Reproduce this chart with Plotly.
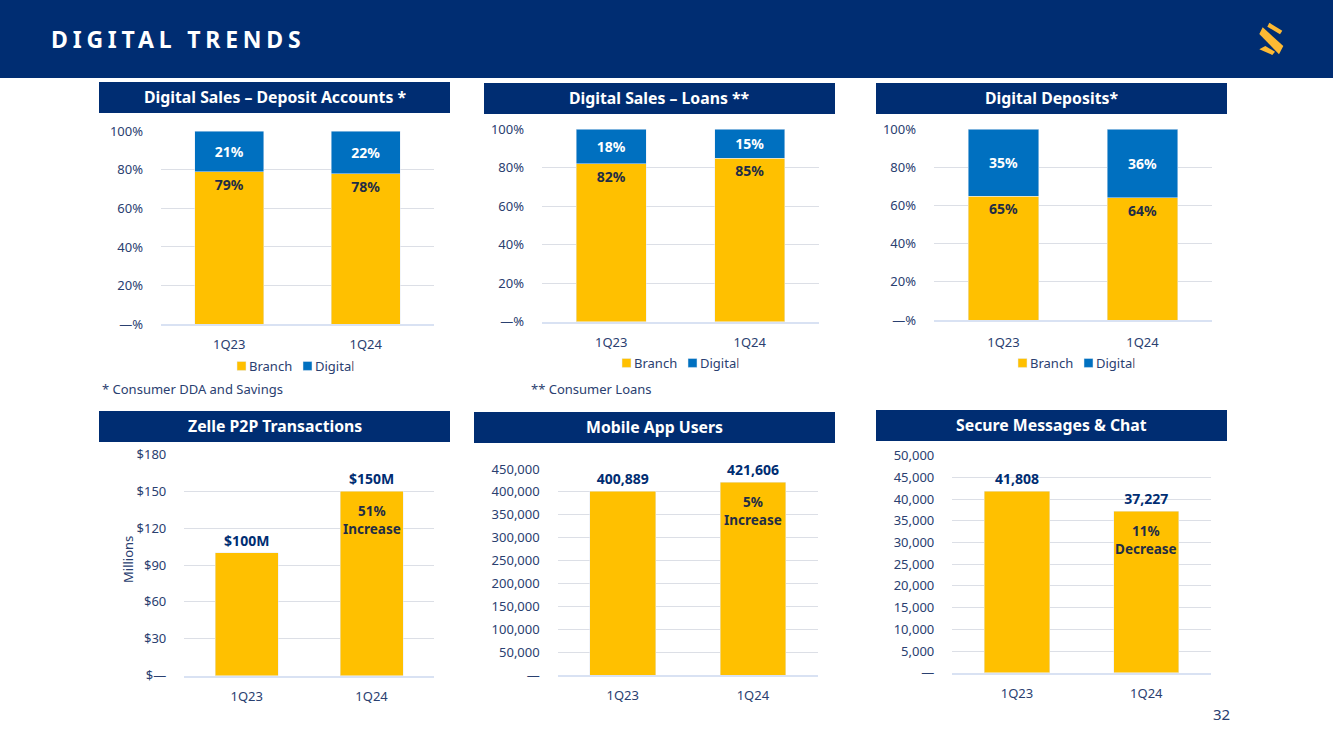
import plotly.graph_objects as go

W, H = 1333, 749
FONT = "Noto Sans"
NAVY = "#002d72"
YELLOW = "#ffc000"
BLUE = "#0070c0"
TICK = "#2a4070"
DARK = "#1f2d45"
GRID = "#dcdfe6"
BASE = "#d9e2f3"

quarters = ["1Q23", "1Q24"]

deposit_branch = [79, 78]
deposit_digital = [21, 22]
loans_branch = [82, 85]
loans_digital = [18, 15]
deposits_branch = [65, 64]
deposits_digital = [35, 36]
zelle = [100, 150]
zelle_labels = ["$100M", "$150M"]
mobile_users = [400889, 421606]
mobile_labels = ["400,889", "421,606"]
messages = [41808, 37227]
messages_labels = ["41,808", "37,227"]

pct_ticks = [0, 20, 40, 60, 80, 100]
pct_text = ["—%", "20%", "40%", "60%", "80%", "100%"]
zelle_ticks = [0, 30, 60, 90, 120, 150, 180]
zelle_text = ["$—", "$30", "$60", "$90", "$120", "$150", "$180"]
mobile_ticks = [0, 50000, 100000, 150000, 200000, 250000, 300000, 350000, 400000, 450000]
mobile_text = ["—", "50,000", "100,000", "150,000", "200,000", "250,000", "300,000", "350,000", "400,000", "450,000"]
msg_ticks = [0, 5000, 10000, 15000, 20000, 25000, 30000, 35000, 40000, 45000, 50000]
msg_text = ["—", "5,000", "10,000", "15,000", "20,000", "25,000", "30,000", "35,000", "40,000", "45,000", "50,000"]


def px(x):
    return x / W


def py(y):
    return 1 - y / H


fig = go.Figure()
axes = {}


def add_axes(n, box, ticks, text, standoff=8):
    # box is the plot area in page pixels: left, right, top, bottom
    left, right, top, bottom = box
    axes[f"xaxis{n}"] = dict(
        domain=[px(left), px(right)], anchor=f"y{n}", type="category",
        showline=True, linecolor=BASE, linewidth=1.5, ticks="", showgrid=False,
        ticklabelstandoff=standoff, tickfont=dict(family=FONT, size=13, color=TICK), fixedrange=True,
    )
    axes[f"yaxis{n}"] = dict(
        domain=[py(bottom), py(top)], anchor=f"x{n}", range=[0, ticks[-1]],
        tickmode="array", tickvals=ticks, ticktext=text, ticks="", showline=False,
        showgrid=True, gridcolor=GRID, gridwidth=1, zeroline=False, ticklabelstandoff=17,
        tickfont=dict(family=FONT, size=13, color=TICK), fixedrange=True,
    )


def stacked(n, box, branch, digital, legend, standoff=8):
    add_axes(n, box, pct_ticks, pct_text, standoff)
    fig.add_trace(go.Bar(
        x=quarters, y=branch, name="Branch", marker_color=YELLOW, xaxis=f"x{n}", yaxis=f"y{n}",
        text=[f"{v}%" for v in branch], textposition="inside", insidetextanchor="end", textangle=0,
        textfont=dict(family=FONT, size=14, color=DARK, weight="bold"), legend=legend,
    ))
    fig.add_trace(go.Bar(
        x=quarters, y=digital, name="Digital", marker_color=BLUE, xaxis=f"x{n}", yaxis=f"y{n}",
        text=[f"{v}%" for v in digital], textposition="inside", insidetextanchor="middle", textangle=0,
        textfont=dict(family=FONT, size=14, color="white", weight="bold"), legend=legend,
    ))


def single(n, box, values, labels, ticks, text):
    add_axes(n, box, ticks, text)
    fig.add_trace(go.Bar(
        x=quarters, y=values, marker_color=YELLOW, xaxis=f"x{n}", yaxis=f"y{n}", showlegend=False,
        text=labels, textposition="outside", cliponaxis=False, textangle=0,
        textfont=dict(family=FONT, size=14, color=NAVY, weight="bold"),
    ))


stacked("", (161, 434, 131, 324.3), deposit_branch, deposit_digital, "legend", 7)
stacked(2, (542, 819, 129.3, 321.7), loans_branch, loans_digital, "legend2")
stacked(3, (934, 1212, 129.3, 320), deposits_branch, deposits_digital, "legend3", 10)
single(4, (184.3, 434, 454.3, 675.7), zelle, zelle_labels, zelle_ticks, zelle_text)
single(5, (557.7, 818, 469, 675), mobile_users, mobile_labels, mobile_ticks, mobile_text)
single(6, (952.3, 1211, 455.7, 672.7), messages, messages_labels, msg_ticks, msg_text)


def legend_at(x, y):
    return dict(
        orientation="h", x=px(x), y=py(y), xanchor="left", yanchor="middle",
        traceorder="normal", bgcolor="rgba(0,0,0,0)", itemclick=False, itemdoubleclick=False,
        font=dict(family=FONT, size=13, color=TICK), entrywidth=21,
    )


shapes = [dict(type="rect", xref="paper", yref="paper", x0=0, x1=1, y0=py(78), y1=1,
               fillcolor=NAVY, line_width=0, layer="below")]
annotations = []

headers = [
    ("Digital Sales – Deposit Accounts *", 99, 450, 82, 113),
    ("Digital Sales – Loans **", 484, 835, 83, 114),
    ("Digital Deposits*", 876, 1227, 83, 114),
    ("Zelle P2P Transactions", 99, 450, 411, 442),
    ("Mobile App Users", 474, 835, 412, 443),
    ("Secure Messages & Chat", 876, 1227, 410, 441),
]
for label, x0, x1, y0, y1 in headers:
    shapes.append(dict(type="rect", xref="paper", yref="paper", x0=px(x0), x1=px(x1),
                       y0=py(y1), y1=py(y0), fillcolor=NAVY, line_width=0, layer="below"))
    annotations.append(dict(text=label, xref="paper", yref="paper", x=px((x0 + x1) / 2), y=py((y0 + y1) / 2 - 1),
                            showarrow=False, xanchor="center", yanchor="middle",
                            font=dict(family=FONT, size=15.8, color="white", weight="bold")))

# change callouts sit just under the top of the 1Q24 bars
callouts = [("x4", "y4", zelle[1], "51%<br>Increase"),
            ("x5", "y5", mobile_users[1], "5%<br>Increase"),
            ("x6", "y6", messages[1], "11%<br>Decrease")]
for xr, yr, val, label in callouts:
    annotations.append(dict(text=label, xref=xr, yref=yr, x="1Q24", y=val, yanchor="top", yshift=-9,
                            showarrow=False, font=dict(family=FONT, size=13.5, color=DARK, weight="bold")))

notes = [("* Consumer DDA and Savings", 101, 389), ("** Consumer Loans", 530, 389)]
for label, x, y in notes:
    annotations.append(dict(text=label, xref="paper", yref="paper", x=px(x), y=py(y), xanchor="left",
                            yanchor="middle", showarrow=False, xshift=-1,
                            font=dict(family=FONT, size=13, color=TICK)))

annotations.append(dict(text="Millions", xref="paper", yref="paper", x=px(128), y=py(560), textangle=-90,
                        xanchor="center", yanchor="middle", showarrow=False,
                        font=dict(family=FONT, size=13, color=TICK)))
annotations.append(dict(text="32", xref="paper", yref="paper", x=px(1221), y=py(714), xanchor="center",
                        yanchor="middle", showarrow=False, font=dict(family=FONT, size=15, color=TICK)))

# logo
logo = [
    [(1269.3, 22.7), (1282.3, 30.7), (1280, 34.3), (1267.3, 26.7)],
    [(1262.7, 27.3), (1283.3, 46), (1279, 54.3), (1259.3, 34)],
    [(1265.3, 46), (1275, 51.7), (1272.3, 55), (1259.3, 49.3)],
]
for pts in logo:
    path = "M" + " L".join(f"{px(a):.5f},{py(b):.5f}" for a, b in pts) + " Z"
    shapes.append(dict(type="path", xref="paper", yref="paper", path=path, fillcolor="#fdb933", line_width=0))

fig.update_layout(
    width=W, height=H, margin=dict(l=0, r=0, t=0, b=0, autoexpand=False), autosize=False,
    paper_bgcolor="white", plot_bgcolor="white",
    barmode="stack", bargap=0.495, hovermode=False,
    title=dict(text="DIGITAL TRENDS", x=px(51), y=py(40), xref="paper", yref="paper",
               xanchor="left", yanchor="middle",
               font=dict(family=FONT, size=23, color="white", weight="bold")),
    legend=legend_at(221.5, 366), legend2=legend_at(606.5, 363), legend3=legend_at(1002.5, 363),
    shapes=shapes, annotations=annotations, **axes,
)

# plotly has no letter spacing or legend swatch sizing, so those are set on the drawn page
post = """
document.body.style.margin='0';document.body.style.overflow='hidden';
document.querySelectorAll('.gtitle').forEach(function(t){t.style.letterSpacing='4.8px';});
document.querySelectorAll('.legendtext,.legend2text,.legend3text').forEach(function(t){t.setAttribute('x','27.5');});
document.querySelectorAll('.legendpoints path').forEach(function(p){p.setAttribute('d','M4.5,4.5H-4.5V-4.5H4.5Z');});
"""
fig.write_html("out.html", config=dict(displayModeBar=False), post_script=post)
